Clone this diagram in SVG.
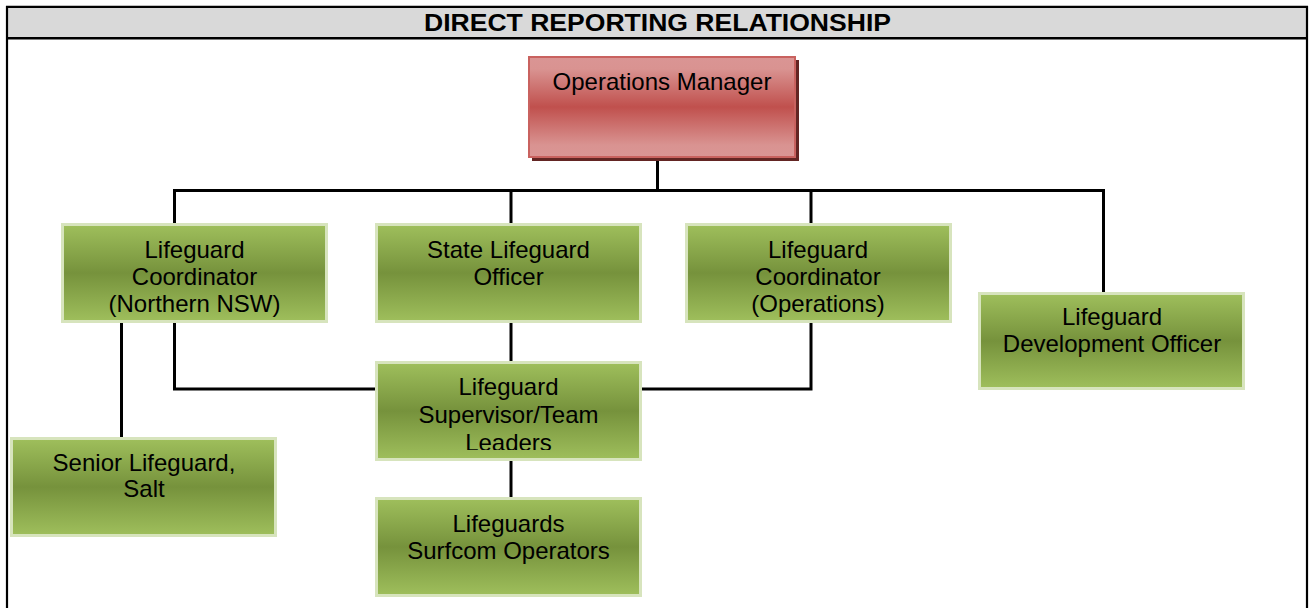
<svg xmlns="http://www.w3.org/2000/svg" width="1314" height="608" viewBox="0 0 1314 608">
<style>
.t{font-family:"Liberation Sans",Arial,sans-serif;font-size:24px;fill:#000;text-anchor:middle}
.h{font-family:"Liberation Sans",Arial,sans-serif;font-size:24px;font-weight:bold;fill:#000;text-anchor:middle}
.g{fill:url(#gg);stroke:#d7e4bd;stroke-width:3}
.r{fill:url(#rg);stroke:#c9625f;stroke-width:2}
.c{fill:none;stroke:#000;stroke-width:3;stroke-linejoin:miter;stroke-linecap:square}
</style>
<defs>
<linearGradient id="gg" x1="0" y1="0" x2="0" y2="1">
<stop offset="0" stop-color="#9fbf5c"/>
<stop offset="0.5" stop-color="#76923c"/>
<stop offset="1" stop-color="#9fbf5c"/>
</linearGradient>
<linearGradient id="rg" x1="0" y1="0" x2="0" y2="1">
<stop offset="0" stop-color="#da9594"/>
<stop offset="0.12" stop-color="#d99391"/>
<stop offset="0.5" stop-color="#c0504d"/>
<stop offset="0.88" stop-color="#d99391"/>
<stop offset="1" stop-color="#da9594"/>
</linearGradient>
<clipPath id="lsclip"><rect x="375" y="361" width="267" height="89"/></clipPath>
</defs>
<rect width="1314" height="608" fill="#fff"/>
<g id="frame">
<rect x="7" y="7" width="1300" height="31" fill="#d9d9d9"/>
<path d="M7 620 V6.8 H1307 V620" fill="none" stroke="#000" stroke-width="2.2"/>
<line x1="7" y1="38.2" x2="1307" y2="38.2" stroke="#000" stroke-width="2.4"/>
<text class="h" x="657.5" y="30.5" textLength="467" lengthAdjust="spacingAndGlyphs">DIRECT REPORTING RELATIONSHIP</text>
</g>
<g id="connectors">
<path class="c" d="M657.5 160 V190.5"/>
<path class="c" d="M174.5 223 V190.5 H1103.5 V292"/>
<path class="c" d="M511 190.5 V223"/>
<path class="c" d="M811 190.5 V223"/>
<path class="c" d="M174.5 323 V389 H375"/>
<path class="c" d="M811 323 V389 H642"/>
<path class="c" d="M511 323 V361"/>
<path class="c" d="M511 461 V497"/>
<path class="c" d="M121.5 323 V437"/>
</g>
<g id="ops-manager">
<rect x="532" y="60" width="267" height="101" fill="#632523"/>
<rect class="r" x="529" y="57" width="266" height="100"/>
<text class="t" x="662" y="90">Operations Manager</text>
</g>
<g id="lc-northern">
<rect class="g" x="62.5" y="224.5" width="264" height="97"/>
<text class="t" x="194.5" y="258">Lifeguard</text>
<text class="t" x="194.5" y="285">Coordinator</text>
<text class="t" x="194.5" y="312">(Northern NSW)</text>
</g>
<g id="state-lifeguard-officer">
<rect class="g" x="376.5" y="224.5" width="264" height="97"/>
<text class="t" x="508.5" y="258">State Lifeguard</text>
<text class="t" x="508.5" y="285">Officer</text>
</g>
<g id="lc-operations">
<rect class="g" x="686.5" y="224.5" width="264" height="97"/>
<text class="t" x="818" y="258">Lifeguard</text>
<text class="t" x="818" y="285">Coordinator</text>
<text class="t" x="818" y="312">(Operations)</text>
</g>
<g id="lifeguard-development-officer">
<rect class="g" x="979.5" y="293.5" width="264" height="95"/>
<text class="t" x="1112" y="325">Lifeguard</text>
<text class="t" x="1112" y="352">Development Officer</text>
</g>
<g id="supervisor-team-leaders">
<rect class="g" x="376.5" y="362.5" width="264" height="97"/>
<g clip-path="url(#lsclip)">
<text class="t" x="508.5" y="395">Lifeguard</text>
<text class="t" x="508.5" y="423">Supervisor/Team</text>
<text class="t" x="508.5" y="451">Leaders</text>
</g>
</g>
<g id="lifeguards-surfcom">
<rect class="g" x="376.5" y="498.5" width="264" height="97"/>
<text class="t" x="508.5" y="532">Lifeguards</text>
<text class="t" x="508.5" y="559">Surfcom Operators</text>
</g>
<g id="senior-lifeguard-salt">
<rect class="g" x="11.5" y="438.5" width="264" height="97"/>
<text class="t" x="144" y="471">Senior Lifeguard,</text>
<text class="t" x="144" y="497">Salt</text>
</g>
</svg>
